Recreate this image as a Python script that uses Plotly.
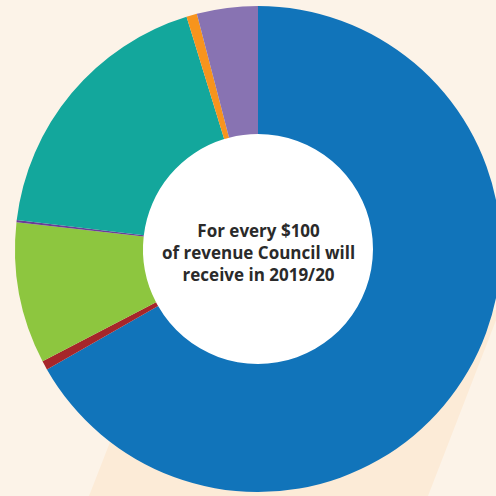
import plotly.graph_objects as go

# Data (dollars per $100 of revenue), clockwise from 12 o'clock
categories = ["Rates and charges", "Statutory fees and fines", "User fees",
              "Contributions - monetary", "Grants", "Other income", "Grants - capital"]
values = [66.75, 0.60, 9.40, 0.15, 18.35, 0.70, 4.05]
colors = ["#1174BA", "#A6262A", "#8DC63F", "#6A3D98", "#13A79C", "#F7941D", "#8873B2"]
center_text = "For every $100<br>of revenue Council will<br>receive in 2019/20"

W, H = 502, 496
cx, cy, r, r_in = 258, 249, 243, 115

fig = go.Figure()
fig.add_trace(go.Pie(
    labels=categories, values=values, sort=False, direction="clockwise", rotation=0,
    hole=r_in / r, marker=dict(colors=colors, line=dict(width=0)),
    textinfo="none", hoverinfo="label+value", showlegend=False,
    domain=dict(x=[(cx - r) / W, (cx + r) / W], y=[(H - cy - r) / H, (H - cy + r) / H]),
))

# decorative background band (below the chart)
def px(x, y):
    return f"{x / W:.4f},{(H - y) / H:.4f}"

band = f"M {px(89, 496)} L {px(161.5, 310)} L {px(500, 310)} L {px(428, 496)} Z"
fig.add_shape(type="path", xref="paper", yref="paper", layer="below",
              path=band, fillcolor="#FCEBD7", line=dict(width=0))
# white centre disc seen through the hole
fig.add_shape(type="circle", xref="paper", yref="paper", layer="below",
              x0=(cx - r_in - 1) / W, x1=(cx + r_in + 1) / W,
              y0=(H - cy - r_in - 1) / H, y1=(H - cy + r_in + 1) / H,
              fillcolor="#FFFFFF", line=dict(width=0))

fig.add_annotation(text=center_text, x=cx / W, y=(H - cy - 3) / H, xref="paper", yref="paper",
                   showarrow=False, align="center",
                   font=dict(family="Open Sans", size=17, color="#2A2A2A", weight="bold"))

fig.update_layout(width=W, height=H, margin=dict(l=0, r=0, t=0, b=0),
                  paper_bgcolor="#FCF3E8", plot_bgcolor="#FCF3E8")

fig.write_html("out.html", config={"displayModeBar": False},
               post_script="document.body.style.margin='0';document.body.style.overflow='hidden';")
